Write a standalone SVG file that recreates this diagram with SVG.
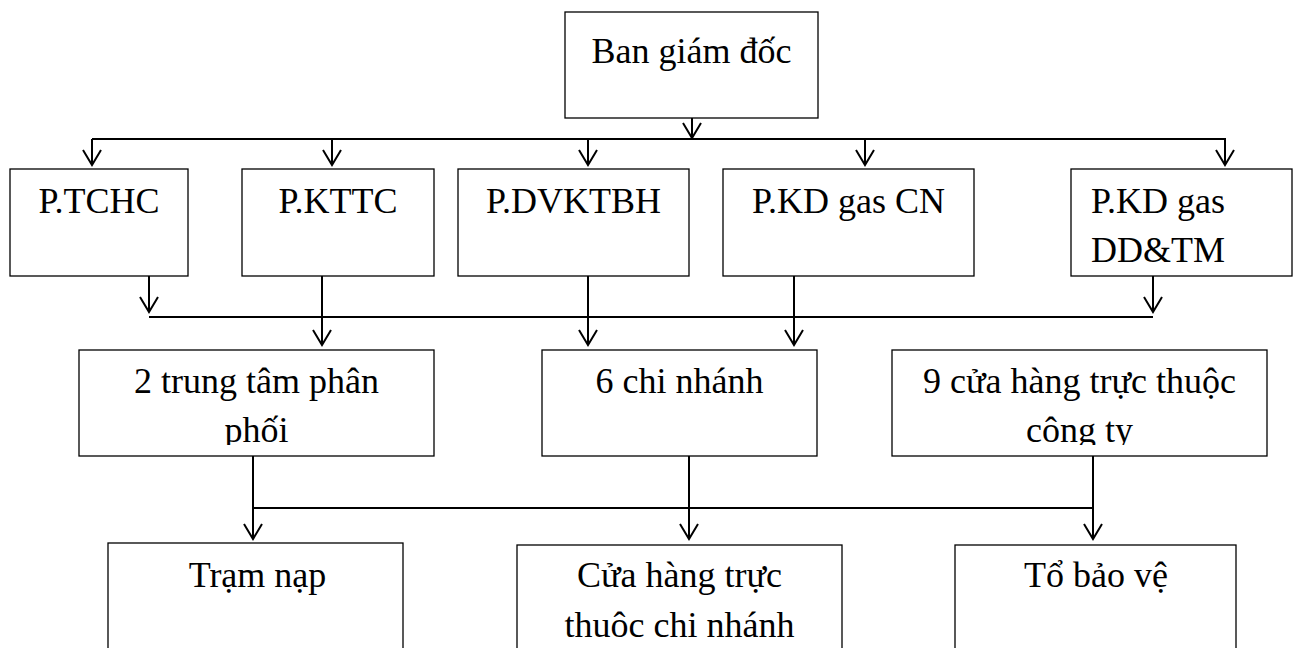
<svg xmlns="http://www.w3.org/2000/svg" width="1296" height="648" viewBox="0 0 1296 648">
<style>
.box{fill:#fff;stroke:#000;stroke-width:1.3}
.t{font-family:"Liberation Serif","Times New Roman",serif;font-size:36px;fill:#000}
.c{text-anchor:middle}
.ln{fill:none;stroke:#000;stroke-width:2}
</style>
<defs>
<marker id="v" markerUnits="userSpaceOnUse" markerWidth="24" markerHeight="24" refX="16" refY="12" orient="auto" overflow="visible">
<path d="M1,3 L16,12 L1,21" fill="none" stroke="#000" stroke-width="2"/>
</marker>
<clipPath id="clipA"><rect x="79" y="350" width="355" height="95"/></clipPath>
<clipPath id="clipC"><rect x="892" y="350" width="375" height="95"/></clipPath>
</defs>
<rect width="1296" height="648" fill="#fff"/>
<g id="connectors" class="ln">
<path d="M692,118 V138" marker-end="url(#v)"/>
<path d="M92,139 H1226"/>
<path d="M92,139 V165" marker-end="url(#v)"/>
<path d="M332,139 V165" marker-end="url(#v)"/>
<path d="M588,139 V165" marker-end="url(#v)"/>
<path d="M865,139 V165" marker-end="url(#v)"/>
<path d="M1225,139 V165" marker-end="url(#v)"/>
<path d="M149,276 V312" marker-end="url(#v)"/>
<path d="M1153,276 V312" marker-end="url(#v)"/>
<path d="M149,317 H1153"/>
<path d="M322,276 V345" marker-end="url(#v)"/>
<path d="M588,276 V345" marker-end="url(#v)"/>
<path d="M794,276 V345" marker-end="url(#v)"/>
<path d="M253,456 V539" marker-end="url(#v)"/>
<path d="M689,456 V539" marker-end="url(#v)"/>
<path d="M1093,456 V539" marker-end="url(#v)"/>
<path d="M253,508 H1093"/>
</g>
<g id="ban-giam-doc"><rect class="box" x="565" y="12" width="253" height="106"/><text class="t c" x="691.5" y="63">Ban giám đốc</text></g>
<g id="p-tchc"><rect class="box" x="10" y="169" width="178" height="107"/><text class="t c" x="99" y="213">P.TCHC</text></g>
<g id="p-kttc"><rect class="box" x="242" y="169" width="192" height="107"/><text class="t c" x="338" y="213">P.KTTC</text></g>
<g id="p-dvktbh"><rect class="box" x="458" y="169" width="231" height="107"/><text class="t c" x="573.5" y="213">P.DVKTBH</text></g>
<g id="p-kd-cn"><rect class="box" x="723" y="169" width="251" height="107"/><text class="t c" x="848.5" y="213">P.KD gas CN</text></g>
<g id="p-kd-ddtm"><rect class="box" x="1071" y="169" width="221" height="107"/><text class="t" x="1091" y="213">P.KD gas</text><text class="t" x="1091" y="262">DD&amp;TM</text></g>
<g id="trung-tam"><rect class="box" x="79" y="350" width="355" height="106"/><g clip-path="url(#clipA)"><text class="t c" x="256.5" y="393">2 trung tâm phân</text><text class="t c" x="256.5" y="442">phối</text></g></g>
<g id="chi-nhanh"><rect class="box" x="542" y="350" width="275" height="106"/><text class="t c" x="679.5" y="393">6 chi nhánh</text></g>
<g id="cua-hang-cty"><rect class="box" x="892" y="350" width="375" height="106"/><g clip-path="url(#clipC)"><text class="t c" x="1079.5" y="393">9 cửa hàng trực thuộc</text><text class="t c" x="1079.5" y="442">công ty</text></g></g>
<g id="tram-nap"><rect class="box" x="108" y="543" width="295" height="120"/><text class="t c" x="257.5" y="587">Trạm nạp</text></g>
<g id="cua-hang-cn"><rect class="box" x="517" y="545" width="325" height="120"/><text class="t c" x="679.5" y="587">Cửa hàng trực</text><text class="t c" x="679.5" y="637">thuôc chi nhánh</text></g>
<g id="to-bao-ve"><rect class="box" x="955" y="545" width="281" height="120"/><text class="t c" x="1096" y="587">Tổ bảo vệ</text></g>
</svg>
